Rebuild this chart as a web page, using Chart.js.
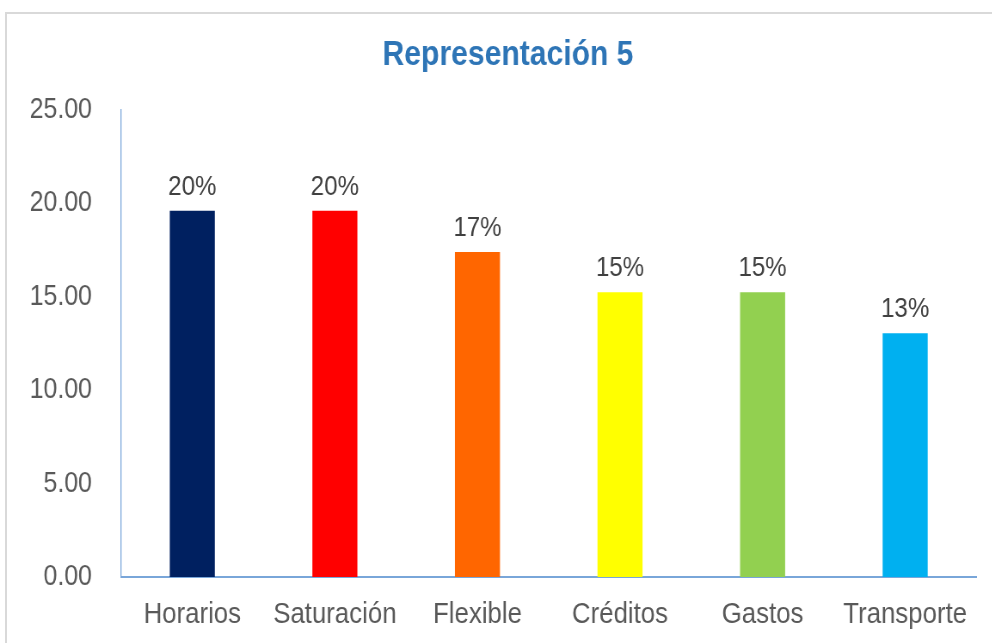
<!DOCTYPE html>
<html>
<head>
<meta charset="utf-8">
<script src="https://cdn.jsdelivr.net/npm/chart.js@4"></script>
<style>
  html, body { margin: 0; padding: 0; background: #fff; overflow: hidden; }
  #frame { position: absolute; left: 5px; top: 12px; width: 1000px; height: 700px; border: 2px solid #d9d9d9; }
  /* no narrow font installed, so squeeze the whole chart horizontally instead */
  #wrap { position: absolute; left: 0; top: 0; width: 1154px; height: 643px; transform: scaleX(0.86); transform-origin: 0 0; }
</style>
</head>
<body>
<div id="frame"></div>
<div id="wrap"><canvas id="chart-rep5"></canvas></div>
<script>
const chartTitle = "Representación 5";
const categories = ["Horarios", "Saturación", "Flexible", "Créditos", "Gastos", "Transporte"];
const values = [19.6, 19.6, 17.4, 15.25, 15.25, 13.05];
const pctLabels = ["20%", "20%", "17%", "15%", "15%", "13%"];
const barColors = ["#002060", "#ff0000", "#ff6600", "#ffff00", "#92d050", "#00b0f0"];
const yTicks = [0, 5, 10, 15, 20, 25];

const FONT = "'Liberation Sans', Arial, sans-serif";
const SX = 0.86;

// labels above bars + title (title sits a bit right of the canvas centre)
const barLabels = {
  id: "barLabels",
  afterDatasetsDraw(chart) {
    const ctx = chart.ctx;
    ctx.save();
    ctx.font = "28px " + FONT;
    ctx.fillStyle = "#404040";
    ctx.textAlign = "center";
    ctx.textBaseline = "alphabetic";
    chart.getDatasetMeta(0).data.forEach((bar, i) => {
      ctx.fillText(pctLabels[i], bar.x, bar.y - 16);
    });
    ctx.font = "bold 35px " + FONT;
    ctx.fillStyle = "#2e75b6";
    ctx.textBaseline = "middle";
    ctx.fillText(chartTitle, 508 / SX, 55);
    ctx.restore();
  }
};

new Chart(document.getElementById("chart-rep5"), {
  type: "bar",
  data: {
    labels: categories,
    datasets: [
      {
        label: chartTitle,
        backgroundColor: barColors,
        data: values,
        barPercentage: 0.316,
        categoryPercentage: 1,
      },
    ],
  },
  options: {
    responsive: true,
    maintainAspectRatio: false,
    animation: false,
    layout: { padding: { left: 0, right: 16 / SX, top: 110, bottom: 0 } },
    plugins: {
      legend: { display: false },
      tooltip: { enabled: false },
      title: { display: false },
    },
    scales: {
      x: {
        grid: { display: false, drawTicks: false },
        border: { display: true, color: "#79a6d9", width: 2 },
        ticks: { color: "#595959", font: { family: FONT, size: 30 }, padding: 20, maxRotation: 0, autoSkip: false },
        afterFit(scale) { scale.height = 66; },
      },
      y: {
        min: 0,
        max: 25,
        afterBuildTicks(scale) { scale.ticks = yTicks.map(v => ({ value: v })); },
        grid: { display: false, drawTicks: false },
        border: { display: true, color: "#79a6d9", width: 1.3 },
        ticks: {
          color: "#595959",
          font: { family: FONT, size: 29 },
          padding: 29 / SX,
          callback: v => Number(v).toFixed(2),
        },
        afterFit(scale) { scale.width = 121 / SX; },
      },
    },
  },
  plugins: [barLabels],
});
</script>
</body>
</html>
